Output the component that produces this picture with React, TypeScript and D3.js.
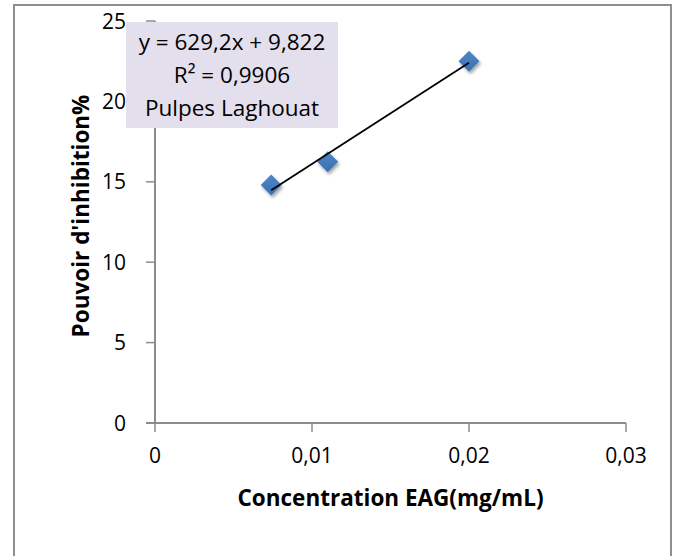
import React from "react";
import * as d3 from "d3";

const xValues = [0.0074, 0.011, 0.02];
const yValues = [14.8, 16.25, 22.5];
const xTicks = [0, 0.01, 0.02, 0.03];
const yTicks = [0, 5, 10, 15, 20, 25];
const slope = 629.2;
const intercept = 9.822;
const labelLines = ["y = 629,2x + 9,822", "R² = 0,9906", "Pulpes Laghouat"];
const xTitle = "Concentration EAG(mg/mL)";
const yTitle = "Pouvoir d'inhibition%";

const W = 678;
const H = 556;
const FONT = "'Open Sans', sans-serif";

export default function App() {
  const x = d3.scaleLinear().domain([0, 0.03]).range([155, 626]);
  const y = d3.scaleLinear().domain([0, 25]).range([423, 21]);
  const fmt = (v: number) => (v === 0 ? "0" : String(v).replace(".", ","));
  const pts = xValues.map((v, i) => [v, yValues[i]] as [number, number]);
  const x0 = d3.min(xValues) as number;
  const x1 = d3.max(xValues) as number;
  const line = d3.line<[number, number]>().x((d) => x(d[0])).y((d) => y(d[1]));
  const trend: [number, number][] = [
    [x0, slope * x0 + intercept],
    [x1, slope * x1 + intercept],
  ];
  const r = 10.5;
  const axisColor = "#8c8c8c";
  const labelY = [50, 83, 116];
  return (
    <svg
      width={W}
      height={H}
      style={{ position: "absolute", left: 0, top: 0 }}
      fontFamily={FONT}
    >
      <defs>
        <filter id="sh" x="-50%" y="-50%" width="200%" height="200%">
          <feDropShadow dx="1.5" dy="2.5" stdDeviation="1.8" floodColor="#000" floodOpacity="0.35" />
        </filter>
        <linearGradient id="mk" x1="0" y1="0" x2="0" y2="1">
          <stop offset="0" stopColor="#4f86c8" />
          <stop offset="1" stopColor="#3a6fb0" />
        </linearGradient>
      </defs>
      <rect x={0} y={0} width={W} height={H} fill="#fff" />
      <rect x={14} y={5} width={657} height={560} fill="#fff" stroke="#8e8e8e" strokeWidth={2} />
      {/* y axis */}
      <line x1={x(0)} x2={x(0)} y1={y(25)} y2={y(0)} stroke={axisColor} strokeWidth={2} />
      {yTicks.map((t) => (
        <line key={"yt" + t} x1={x(0) - 9} x2={x(0)} y1={y(t)} y2={y(t)} stroke={axisColor} strokeWidth={1.5} />
      ))}
      {/* x axis */}
      <line x1={x(0) - 9} x2={x(0.03)} y1={y(0)} y2={y(0)} stroke={axisColor} strokeWidth={2} />
      {xTicks.map((t) => (
        <g key={"x" + t}>
          <line x1={x(t)} x2={x(t)} y1={y(0)} y2={y(0) + 9} stroke={axisColor} strokeWidth={1.5} />
          <text x={x(t)} y={y(0) + 40} textAnchor="middle" fontSize={21} fill="#000">
            {fmt(t)}
          </text>
        </g>
      ))}
      {/* label box */}
      <rect x={126} y={22} width={212} height={106} fill="#e4dfec" />
      {labelLines.map((s, i) => (
        <text key={s} x={232} y={labelY[i]} textAnchor="middle" fontSize={22.5} fill="#000">
          {s}
        </text>
      ))}
      {yTicks.map((t) => (
        <text key={"yl" + t} x={x(0) - 29} y={y(t)} dy="0.36em" textAnchor="end" fontSize={21} fill="#000">
          {fmt(t)}
        </text>
      ))}
      {/* markers */}
      {pts.map((p, i) => (
        <path
          key={i}
          d={`M${x(p[0])},${y(p[1]) - r}L${x(p[0]) + r},${y(p[1])}L${x(p[0])},${y(p[1]) + r}L${x(p[0]) - r},${y(p[1])}Z`}
          fill="url(#mk)"
          filter="url(#sh)"
        />
      ))}
      {/* trendline */}
      <path d={line(trend) || ""} fill="none" stroke="#000" strokeWidth={1.8} />
      {/* titles */}
      <text x={(x(0) + x(0.03)) / 2} y={506} textAnchor="middle" fontSize={22.5} fontWeight="bold" fill="#000">
        {xTitle}
      </text>
      <text
        transform={`translate(89,216) rotate(-90)`}
        textAnchor="middle"
        fontSize={22.5}
        fontWeight="bold"
        fill="#000"
      >
        {yTitle}
      </text>
    </svg>
  );
}
